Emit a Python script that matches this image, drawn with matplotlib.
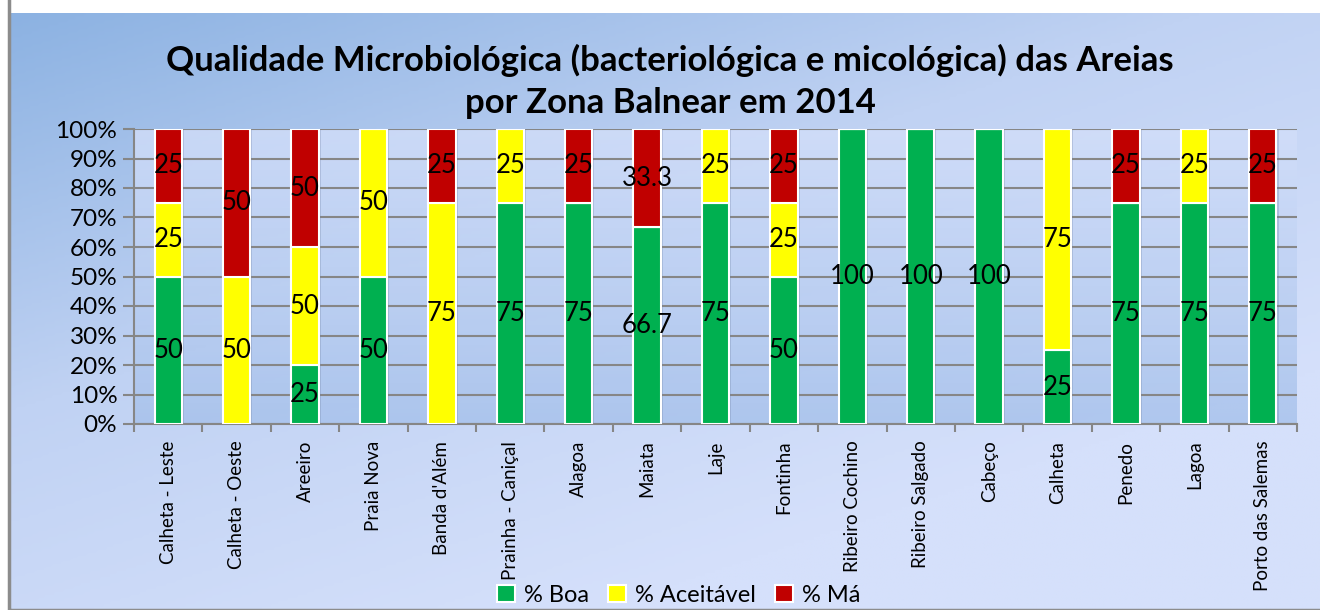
import numpy as np
import matplotlib
matplotlib.use("Agg")
import matplotlib.pyplot as plt
from matplotlib.patches import Rectangle
from matplotlib.colors import LinearSegmentedColormap

plt.rcParams['font.family'] = ['Lato', 'DejaVu Sans']

zonas = ["Calheta - Leste", "Calheta - Oeste", "Areeiro", "Praia Nova", "Banda d'Além",
         "Prainha - Caniçal", "Alagoa", "Maiata", "Laje", "Fontinha", "Ribeiro Cochino",
         "Ribeiro Salgado", "Cabeço", "Calheta", "Penedo", "Lagoa", "Porto das Salemas"]
boa = [50, 0, 25, 50, 0, 75, 75, 66.7, 75, 50, 100, 100, 100, 25, 75, 75, 75]
aceitavel = [25, 50, 50, 50, 75, 25, 0, 0, 25, 25, 0, 0, 0, 75, 0, 25, 0]
ma = [25, 50, 50, 0, 25, 0, 25, 33.3, 0, 25, 0, 0, 0, 0, 25, 0, 25]
series_names = ["% Boa", "% Aceitável", "% Má"]
cores = ["#00B050", "#FFFF00", "#C00000"]

W, H = 1320, 610
fig = plt.figure(figsize=(W / 100, H / 100), dpi=100)
fig.patch.set_facecolor("white")

# chart background (diagonal gradient) inside border
bg = fig.add_axes([9 / W, 0, 1 - 9 / W, 1 - 13 / H], zorder=-2)
yy, xx = np.mgrid[0:1:200j, 0:1:400j]
t = np.clip(0.55 * xx + 0.75 * yy, 0, 1)
cm_bg = LinearSegmentedColormap.from_list("bg", ["#8CB2E2", "#C0D2F3", "#D5E0FB"])
bg.imshow(t, cmap=cm_bg, aspect="auto", extent=[0, 1, 1, 0])
bg.set_xlim(0, 1); bg.set_ylim(1, 0)
bg.axis("off")
bg.add_patch(Rectangle((0, 0), 1.2, 1.2, fill=False, edgecolor="#8C8C8C", lw=2.5,
                       transform=bg.transAxes, clip_on=False))

# plot area
left, right, top, bottom = 134, 1297, 129, 424
ax = fig.add_axes([left / W, 1 - bottom / H, (right - left) / W, (bottom - top) / H])
ax.set_facecolor("none")
ty = np.linspace(0, 1, 200).reshape(-1, 1)
cm_pa = LinearSegmentedColormap.from_list("pa", ["#A6C1EB", "#D3DFFA"])
ax.imshow(ty, cmap=cm_pa, aspect="auto", extent=[-0.5, len(zonas) - 0.5, 1.0, 0.0],
          zorder=0, alpha=0.8)

x = np.arange(len(zonas))
dados = np.array([boa, aceitavel, ma], dtype=float)
totais = dados.sum(axis=0)
frac = dados / totais
base = np.zeros(len(zonas))
for i in range(3):
    ax.bar(x + 0.03, frac[i], 0.4, bottom=base - 0.004, color="#5A6E96", alpha=0.25,
           zorder=2, linewidth=0)
    ax.bar(x, frac[i], 0.4, bottom=base, color=cores[i], edgecolor="white", linewidth=1.5,
           zorder=3, label=series_names[i])
    for j in range(len(zonas)):
        v = dados[i, j]
        if v > 0:
            lbl = ("%g" % v)
            ax.text(x[j], base[j] + frac[i, j] / 2, lbl, ha="center", va="center",
                    fontsize=18.5, color="black", zorder=5)
    base = base + frac[i]

ax.set_xlim(-0.5, len(zonas) - 0.5)
ax.set_ylim(0, 1)
ax.set_yticks(np.linspace(0, 1, 11))
ax.set_yticklabels(["%d%%" % v for v in range(0, 101, 10)], fontsize=17.5)
ax.yaxis.grid(True, color="#868686", linewidth=1.5, zorder=1)
ax.set_axisbelow(True)
ax.set_xticks(x)
ax.set_xticklabels(zonas, rotation=90, fontsize=13.5)
ax.set_xticks(np.arange(-0.5, len(zonas)), minor=True)
ax.tick_params(axis="x", which="major", length=0, pad=12)
ax.tick_params(axis="x", which="minor", length=6, width=1.5, color="#868686")
ax.tick_params(axis="y", length=8, width=1.5, color="#868686", pad=4)
for s in ["top", "right"]:
    ax.spines[s].set_visible(False)
for s in ["left", "bottom"]:
    ax.spines[s].set_color("#868686")
    ax.spines[s].set_linewidth(1.5)

fig.text(670 / W, 1 - 60 / H, "Qualidade Microbiológica (bacteriológica e micológica) das Areias",
         ha="center", va="center", fontsize=25, fontweight="bold")
fig.text(670 / W, 1 - 103 / H, "por Zona Balnear em 2014",
         ha="center", va="center", fontsize=25, fontweight="bold")

fig.legend(loc="center", bbox_to_anchor=(679 / W, 1 - 595 / H), ncol=3, frameon=False,
           fontsize=17, handlelength=0.75, handleheight=0.75, handletextpad=0.4,
           columnspacing=0.8, borderpad=0)

fig.savefig("out.png", dpi=100)
